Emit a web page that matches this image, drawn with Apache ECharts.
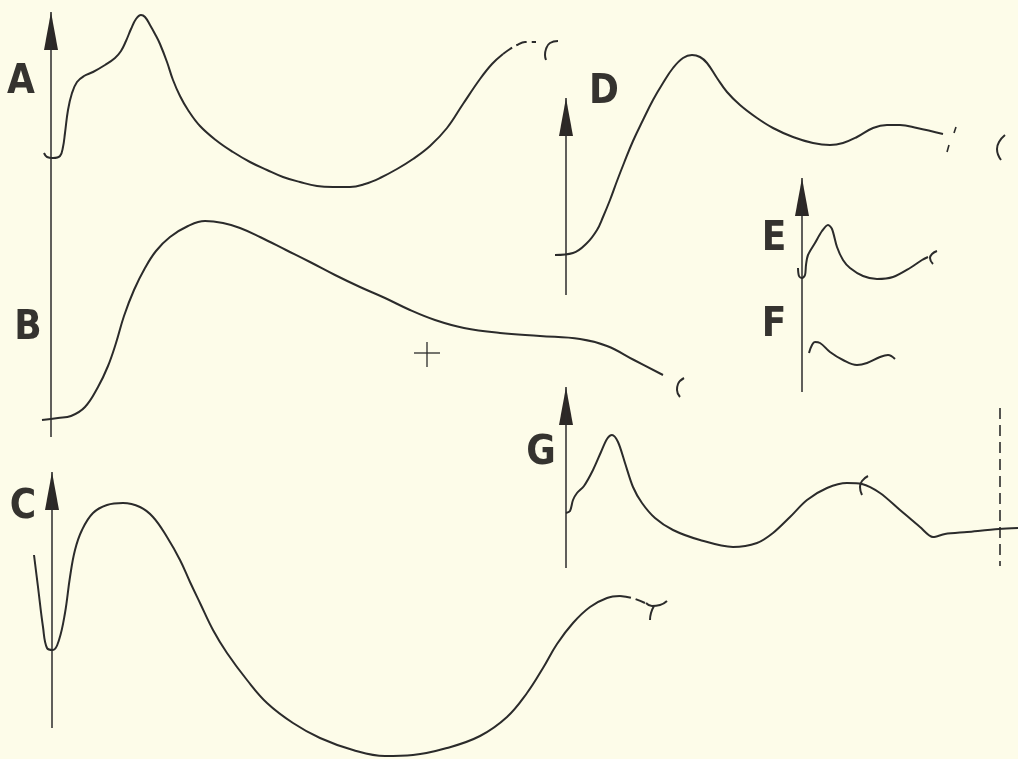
<!DOCTYPE html>
<html>
<head>
<meta charset="utf-8">
<title>Curves A-G</title>
<script src="https://cdn.jsdelivr.net/npm/echarts@6/dist/echarts.min.js"></script>
<style>
  html, body { margin: 0; padding: 0; background: #fdfce9; }
  #chart { width: 1018px; height: 759px; }
</style>
</head>
<body>
<div id="chart"></div>
<script>
// curve traces (x across, y down)
const curveA = [[44,153],[47,157],[53,158],[60,156],[63,147],[65,133],[68,110],[72,93],[77,82],[84,76],[93,72],[105,65],[115,58],[121,51],[126,41],[131,29],[136,19],[141,15],[145,17],[150,25],[155,34],[160,44],[167,62],[173,80],[180,96],[188,110],[200,126],[217,141],[233,152],[250,162],[267,170],[283,177],[300,182],[317,186],[333,187],[350,187],[365,184],[380,178],[397,169],[413,159],[430,146],[447,128],[463,104],[480,79],[492,64],[503,54]]
const curveADashed = [[503,54],[510,49],[517,45],[525,42],[536,42]]
const curveAEnd = [[558,41],[550,43],[546,49],[545,55],[546,60]]

const curveB = [[42,420],[58,418],[71,416],[85,407],[98,387],[108,366],[116,343],[124,316],[134,290],[145,268],[156,251],[170,237],[188,226],[205,221],[223,223],[240,228],[260,237],[286,250],[310,262],[335,275],[360,287],[385,298],[410,310],[435,320],[464,328],[500,333],[540,336],[580,339],[607,346],[634,360],[663,375]]
const curveBEnd = [[684,378],[678,384],[677,390],[680,397]]

const curveC = [[34,555],[38,587],[43,627],[47,648],[53,650],[59,640],[65,613],[70,577],[75,550],[82,530],[93,513],[107,505],[123,503],[140,507],[153,517],[167,537],[180,560],[190,582],[200,603],[213,630],[227,653],[247,680],[267,703],[293,723],[320,738],[353,750],[385,756],[413,755],[447,748],[480,736],[507,717],[527,693],[543,668],[557,644],[573,623],[590,607],[607,598],[620,596]]
const curveCDashed = [[620,596],[632,598],[645,603]]
const curveCEndArm = [[646,603],[652,606],[660,605],[667,601]]
const curveCEndStem = [[654,606],[651,613],[650,620]]

const curveD = [[555,255],[573,253],[587,243],[597,230],[603,217],[610,200],[617,181],[624,163],[633,141],[643,120],[653,100],[663,83],[673,68],[683,58],[692,55],[700,57],[707,63],[717,78],[727,92],[740,105],[757,118],[773,128],[793,137],[813,143],[830,145],[843,143],[857,137],[873,128],[887,125],[900,125],[917,128],[943,134]]
const curveDTicks = [[[956,127],[954,133]], [[949,145],[947,152]]]
const curveDEnd = [[1005,135],[999,142],[997,149],[1001,160]]

const curveE = [[798,268],[799,276],[802,278],[805,275],[806,265],[808,255],[815,243],[822,231],[828,225],[832,229],[837,247],[843,260],[850,268],[863,276],[877,279],[893,277],[910,268],[922,260],[928,257]]
const curveEEnd = [[937,251],[932,254],[930,258],[933,264]]

const curveF = [[809,353],[812,345],[815,342],[820,343],[830,352],[843,360],[857,365],[867,363],[880,357],[888,355],[895,359]]

const curveG = [[566,513],[570,511],[573,500],[577,493],[584,486],[593,470],[601,452],[607,439],[612,435],[618,442],[625,463],[633,487],[642,503],[655,518],[673,530],[700,540],[733,547],[757,543],[773,533],[790,517],[807,500],[827,488],[847,483],[862,484],[880,493],[900,510],[920,527],[933,537],[945,534],[967,532],[999,529],[1018,528]]
const curveGEnd = [[868,476],[862,481],[860,487],[862,495]]
const markerG = [[1000,408],[1000,566]]

const crossMark = [[[414,353],[440,353]], [[427,342],[427,367]]]

// vertical reference axes: foot and tip of each arrow
const axisStems = [[[51,437],[51,12]], [[52,728],[52,472]], [[566,295],[566,98]], [[802,392],[802,178]], [[566,568],[566,387]]]

// panel letters and where they sit
const panelLabels = ['A', 'B', 'C', 'D', 'E', 'F', 'G']
const labelAnchors = [[21,83],[28,329],[23,508],[604,93],[774,240],[774,326],[541,454]]

const ink = '#2b2b2b'

function curve(data, opts = {}) {
  return {
    type: 'line',
    data,
    showSymbol: false,
    smooth: opts.smooth ?? 0.4,
    silent: true,
    lineStyle: {
      color: ink,
      width: opts.width ?? 2,
      type: opts.dash ?? 'solid'
    }
  }
}

const chart = echarts.init(document.getElementById('chart'))

const series = [
  curve(curveA),
  curve(curveADashed, { dash: [11, 5] }),
  curve(curveAEnd, { smooth: 0.5 }),
  curve(curveB),
  curve(curveBEnd, { smooth: 0.5 }),
  curve(curveC),
  curve(curveCDashed, { dash: [11, 5] }),
  curve(curveCEndArm, { smooth: 0.5 }),
  curve(curveCEndStem, { smooth: 0.5 }),
  curve(curveD),
  ...curveDTicks.map(t => curve(t, { smooth: false, width: 1.6 })),
  curve(curveDEnd, { smooth: 0.5 }),
  curve(curveE, { smooth: 0.3 }),
  curve(curveEEnd, { smooth: 0.5 }),
  curve(curveF),
  curve(curveG, { smooth: 0.3 }),
  curve(curveGEnd, { smooth: 0.5 }),
  curve(markerG, { smooth: false, width: 1.6, dash: [11, 6] }),
  ...crossMark.map(t => curve(t, { smooth: false, width: 1.3 })),
  ...axisStems.map(s => curve(s, { smooth: false, width: 1.5 })),
  {
    // arrow heads sit on the stem tips
    type: 'scatter',
    silent: true,
    symbol: 'triangle',
    symbolSize: [14, 38],
    symbolOffset: [0, '50%'],
    itemStyle: { color: '#2c2826', opacity: 1 },
    data: axisStems.map(s => s[1])
  },
  {
    type: 'scatter',
    silent: true,
    symbolSize: 0,
    itemStyle: { opacity: 1 },
    data: labelAnchors.map((p, i) => ({ value: p, name: panelLabels[i] })),
    label: {
      show: true,
      position: 'inside',
      formatter: '{b}',
      fontFamily: '"DejaVu Sans Condensed", "DejaVu Sans", sans-serif',
      fontWeight: 'bold',
      fontSize: 40,
      color: '#35332f',
      textBorderWidth: 0
    }
  }
]

chart.setOption({
  backgroundColor: '#fdfce9',
  animation: false,
  grid: { left: 0, right: 0, top: 0, bottom: 0 },
  xAxis: { type: 'value', min: 0, max: 1018, show: false },
  yAxis: { type: 'value', min: 0, max: 759, inverse: true, show: false },
  series
})
</script>
</body>
</html>
